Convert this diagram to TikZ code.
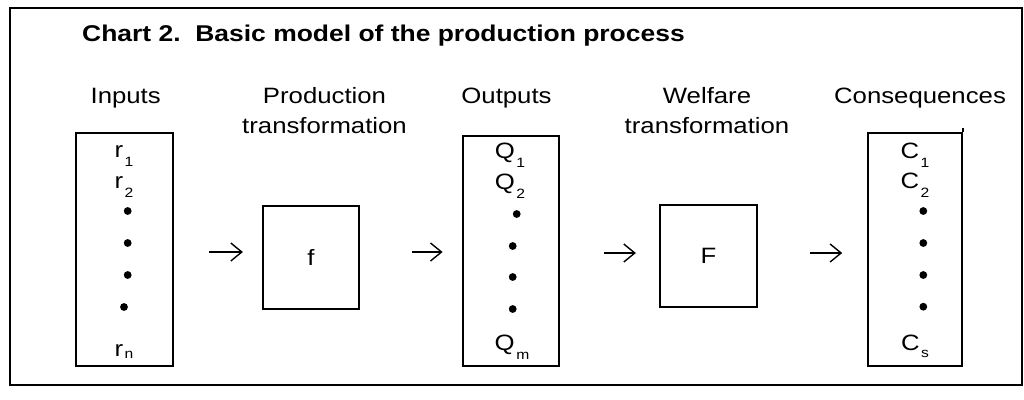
\documentclass[tikz,border=0pt]{standalone}
\usepackage{fontspec}
\setmainfont{Liberation Sans}[FakeStretch=1.16]
\usetikzlibrary{arrows.meta}
\newcommand\sbx[2][9pt]{\kern1.5pt\raisebox{-#1}{\fontsize{13.5}{14}\selectfont #2}}
\tikzset{
  box/.style={draw, line width=2.2pt, inner sep=0pt, font=\fontsize{22.2}{26}\selectfont},
  head/.style={font=\fontsize{22.2}{30}\selectfont, align=center, inner sep=0pt, anchor=base},
  item/.style={font=\fontsize{22.2}{26}\selectfont, inner sep=0pt, anchor=base},
  arr/.style={line width=1.4pt, -{Straight Barb[length=11pt,width=18pt,line width=1.4pt]}},
  bullet/.style={circle, fill, inner sep=0pt, minimum size=7.8pt},
}
\begin{document}
\begin{tikzpicture}[x=1pt,y=-1pt]
\useasboundingbox (0,0) rectangle (1024,399);
\fill[white] (0,0) rectangle (1024,399);
\draw[line width=1.4pt] (10,8) rectangle (1022,385);
\node[inner sep=0pt, anchor=base west, font=\fontsize{22.8}{26}\selectfont\bfseries] (title) at (82,41) {Chart 2.\ \ Basic model of the production process};
% headings
\node[head] (hin)  at (125.7,103) {Inputs};
\node[head] (hpt)  at (324.5,133) {Production\\transformation};
\node[head] (hout) at (506.5,103) {Outputs};
\node[head] (hwt)  at (707,133) {Welfare\\transformation};
\node[head] (hcon) at (920,103) {Consequences};
% boxes
\node[box, minimum width=97.6pt, minimum height=233pt] (inbox) at (124.5,249.5) {};
\node[box, minimum width=96pt, minimum height=103pt] (fbox) at (311,257.5) {f};
\node[box, minimum width=96.6pt, minimum height=230pt] (outbox) at (511,251) {};
\node[box, minimum width=97pt, minimum height=102pt] (Fbox) at (708.5,256) {F};
\node[box, minimum width=93.4pt, minimum height=232.4pt] (conbox) at (915,249.5) {};
\draw[line width=2.2pt] (conbox.north east) -- ++(0,-4);
% inputs items
\node[item] (r1) at (124,157) {r\sbx{1}};
\node[item] (r2) at (124,188) {r\sbx{2}};
\node[bullet] (ri1) at (127.7,211) {};
\node[bullet] (ri2) at (127.7,243) {};
\node[bullet] (ri3) at (127.7,275) {};
\node[bullet] (ri4) at (124,307) {};
\node[item] (rn) at (124,356) {r\sbx[2pt]{n}};
% outputs items
\node[item] (q1) at (510,158) {Q\sbx{1}};
\node[item] (q2) at (510,189) {Q\sbx{2}};
\node[bullet] (qi1) at (516.7,214) {};
\node[bullet] (qi2) at (512.7,246) {};
\node[bullet] (qi3) at (512.7,277) {};
\node[bullet] (qi4) at (512.7,309) {};
\node[item] (qm) at (512,350) {Q\sbx{m}};
% consequences items
\node[item] (c1) at (915,158) {C\sbx{1}};
\node[item] (c2) at (915,188) {C\sbx{2}};
\node[bullet] (ci1) at (923.3,211) {};
\node[bullet] (ci2) at (923.3,243) {};
\node[bullet] (ci3) at (923.3,275) {};
\node[bullet] (ci4) at (923.3,306.7) {};
\node[item] (cs) at (915,350) {C\sbx[7pt]{s}};
% arrows
\coordinate (ya) at (0,252);
\coordinate (yb) at (0,253);
\draw[arr, shorten <=35pt, shorten >=19pt] (inbox.east |- ya) -- (fbox.west |- ya);
\draw[arr, shorten <=52pt, shorten >=19pt] (fbox.east |- ya) -- (outbox.west |- ya);
\draw[arr, shorten <=44pt, shorten >=23pt] (outbox.east |- yb) -- (Fbox.west |- yb);
\draw[arr, shorten <=52pt, shorten >=25pt] (Fbox.east |- yb) -- (conbox.west |- yb);
\end{tikzpicture}
\end{document}
